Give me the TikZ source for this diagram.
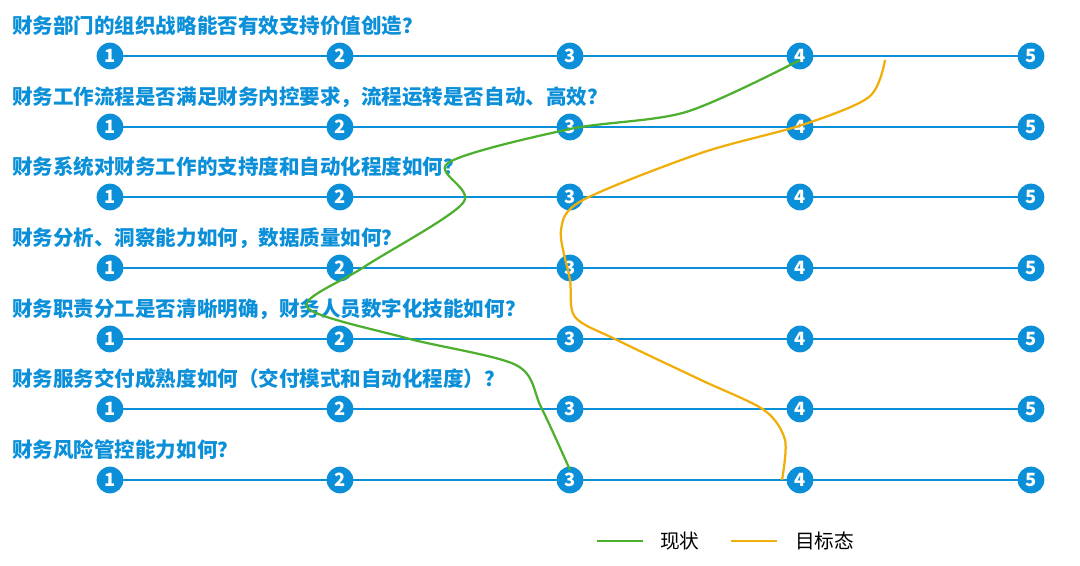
\documentclass[tikz,border=0pt]{standalone}
\usepackage{fontspec}
\setmainfont{Noto Sans CJK SC}
\usetikzlibrary{positioning}
\definecolor{lineblue}{HTML}{0A8FD8}
\definecolor{curgreen}{HTML}{4CAF2E}
\definecolor{goalorange}{HTML}{F0AE0A}
\tikzset{
  question/.style={anchor=west,text=lineblue,font=\fontsize{14.6}{16}\selectfont\bfseries,inner sep=0pt},
  dot/.style={circle,fill=lineblue,text=white,minimum size=19pt,inner sep=0pt,font=\fontsize{13}{14}\selectfont\bfseries},
  legend/.style={anchor=west,font=\fontsize{14}{16}\selectfont,inner sep=0pt}
}
\begin{document}
\begin{tikzpicture}[x=0.025cm,y=-0.025cm]
  \useasboundingbox (0,0) rectangle (1080,566);

% ROWS ========================================================================
  \foreach \r/\y/\q in {1/56/财务部门的组织战略能否有效支持价值创造？,
                        2/127/财务工作流程是否满足财务内控要求，流程运转是否自动、高效？,
                        3/197/财务系统对财务工作的支持度和自动化程度如何？,
                        4/268/财务分析、洞察能力如何，数据质量如何？,
                        5/339/财务职责分工是否清晰明确，财务人员数字化技能如何？,
                        6/409/财务服务交付成熟度如何（交付模式和自动化程度）？,
                        7/480/财务风险管控能力如何？} {
    \node[question] (q\r) at (12,\y-30) {\q};
    \draw[lineblue,line width=2.1pt] (110,\y) -- (1031,\y);
    \foreach \n/\x in {1/110,2/340,3/570,4/800,5/1031} {
      \node[dot] (d\r-\n) at (\x,\y) {\n};
    }
  }

% CURVES ======================================================================
  \draw[curgreen,line width=1.6pt] plot[smooth,tension=0.5] coordinates {
    (800,60) (686,112) (570,129) (448,163) (463,203) (364,267) (307,307)
    (406,338) (516,365) (541,407) (570,470)};
  \draw[goalorange,line width=1.6pt] plot[smooth,tension=0.5] coordinates {
    (885,60) (869,97) (802,125) (701,153) (583,200) (561,230) (570,280)
    (575,317) (617,340) (701,380) (764,410) (785,440) (782,480)};

% LEGEND ======================================================================
  \draw[curgreen,line width=1.4pt] (597,541) -- (643,541);
  \node[legend] (lg1) at (660,541) {现状};
  \draw[goalorange,line width=1.4pt] (731,541) -- (777,541);
  \node[legend] (lg2) at (795,541) {目标态};
\end{tikzpicture}
\end{document}
